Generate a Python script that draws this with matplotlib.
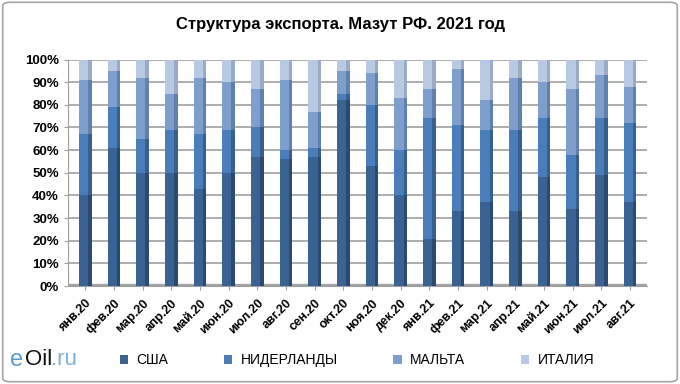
import matplotlib.pyplot as plt
import numpy as np
from matplotlib.patches import FancyBboxPatch

months = ['янв.20', 'фев.20', 'мар.20', 'апр.20', 'май.20', 'июн.20', 'июл.20',
          'авг.20', 'сен.20', 'окт.20', 'ноя.20', 'дек.20', 'янв.21', 'фев.21',
          'мар.21', 'апр.21', 'май.21', 'июн.21', 'июл.21', 'авг.21']

# доли, %
usa = [40, 61, 50, 50, 43, 50, 57, 56, 57, 82, 53, 40, 21, 33, 37, 33, 48, 34, 49, 37]
nld = [27, 18, 15, 19, 24, 19, 13, 4, 4, 3, 27, 20, 53, 38, 32, 36, 26, 24, 25, 35]
mlt = [24, 16, 27, 16, 25, 21, 17, 31, 16, 10, 14, 23, 13, 25, 13, 23, 16, 29, 19, 16]
ita = [100 - a - b - c for a, b, c in zip(usa, nld, mlt)]

colors = ['#3A6393', '#4A7EBB', '#7E9ECE', '#B8C9E4']
sides = ['#2B4A70', '#38608F', '#6080AE', '#9AABC6']
names = ['США', 'НИДЕРЛАНДЫ', 'МАЛЬТА', 'ИТАЛИЯ']

plt.rcParams['font.family'] = ['Liberation Sans', 'DejaVu Sans']

fig = plt.figure(figsize=(6.8, 3.84), dpi=100)
fig.patches.append(FancyBboxPatch((0.004, 0.006), 0.992, 0.988,
                                  boxstyle='round,pad=0,rounding_size=0.01',
                                  transform=fig.transFigure, fill=False,
                                  edgecolor='#A6A6A6', linewidth=1.2))

ax = fig.add_axes([0.1, 0.255, 0.852, 0.59])
x = np.arange(len(months))
w = 0.44
bottom = np.zeros(len(months))
for vals, c, sc, n in zip([usa, nld, mlt, ita], colors, sides, names):
    ax.bar(x, vals, w, bottom=bottom, color=c, label=n,
           linewidth=0, zorder=3)
    # затенённая правая грань
    ax.bar(x + w / 2 - 0.06, vals, 0.12, bottom=bottom, color=sc,
           linewidth=0, zorder=4)
    bottom += np.array(vals)

ax.set_ylim(0, 100)
ax.set_xlim(-0.6, len(months) - 0.4)
ax.set_yticks(range(0, 101, 10))
ax.set_yticklabels([f'{v}%' for v in range(0, 101, 10)],
                   fontweight='bold', fontsize=9.5)
ax.set_xticks(x)
ax.set_xticklabels(months, rotation=45, ha='right', rotation_mode='anchor',
                   fontweight='bold', fontsize=9)
ax.yaxis.grid(True, color='#A0A0A0', linewidth=1.2, zorder=0)
ax.axhspan(-1.5, 0.8, color='#A6A6A6', zorder=1)
for s in ['top', 'right']:
    ax.spines[s].set_visible(False)
ax.spines['left'].set_color('#A0A0A0')
ax.spines['bottom'].set_color('#A0A0A0')
ax.tick_params(axis='both', color='#A0A0A0', length=3)
ax.tick_params(axis='x', pad=5)

fig.text(0.5, 0.935, 'Структура экспорта. Мазут РФ. 2021 год',
         ha='center', va='center', fontsize=12, fontweight='bold')

fig.legend(loc='center', bbox_to_anchor=(0.525, 0.062), ncol=4, frameon=False,
           fontsize=10, handlelength=0.6, handleheight=0.6,
           columnspacing=4.0, handletextpad=0.6)

# логотип
fig.text(0.014, 0.063, 'e', color='#5B9BD5', fontsize=17, va='center')
fig.text(0.037, 0.063, 'Oil', color='#111111', fontsize=16, va='center')
fig.text(0.075, 0.063, '.ru', color='#7FB2E0', fontsize=16, va='center')

fig.savefig('out.png', dpi=100)
